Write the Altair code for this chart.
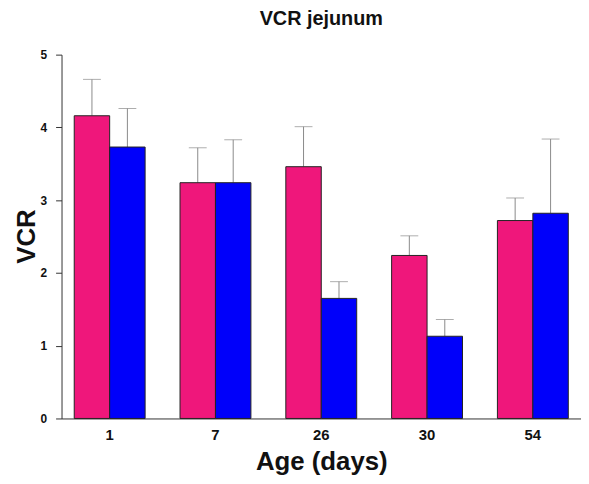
import altair as alt
import pandas as pd

ages = ["1", "7", "26", "30", "54"]
groups = ["A", "B"]
pink_vals = [4.16, 3.24, 3.46, 2.24, 2.72]
pink_err = [0.50, 0.48, 0.55, 0.27, 0.31]
blue_vals = [3.73, 3.24, 1.65, 1.13, 2.82]
blue_err = [0.53, 0.59, 0.23, 0.23, 1.02]
colors = ["#EF177B", "#0000FA"]

rows = []
for i, a in enumerate(ages):
    rows.append({"age": a, "group": "A", "value": pink_vals[i], "upper": pink_vals[i] + pink_err[i]})
    rows.append({"age": a, "group": "B", "value": blue_vals[i], "upper": blue_vals[i] + blue_err[i]})
df = pd.DataFrame(rows)

FONT = "Liberation Sans"

x_axis = alt.Axis(labelAngle=0, ticks=False, domain=True, domainColor="#333333", grid=False,
                  labelFont=FONT, labelFontSize=15, labelFontWeight="bold",
                  labelColor="#111111", labelPadding=9,
                  titleFont=FONT, titleFontSize=26, titleFontWeight="bold",
                  titleColor="#111111", titlePadding=6)
y_axis = alt.Axis(values=[0, 1, 2, 3, 4, 5], format="d", grid=False, tickSize=6, domain=True,
                  domainColor="#333333", tickColor="#333333",
                  labelFont=FONT, labelFontSize=12, labelFontWeight="bold",
                  labelColor="#111111", labelPadding=9,
                  titleFont=FONT, titleFontSize=26, titleFontWeight="bold",
                  titleColor="#111111", titleX=-27, titleY=183,
                  titleAngle=-90, titleBaseline="alphabetic")

x_scale = alt.Scale(paddingInner=0.33, paddingOuter=0.12)
y_scale = alt.Scale(domain=[0, 5], nice=False)
xo = alt.XOffset("group:N", sort=groups, scale=alt.Scale(paddingInner=0, paddingOuter=0))

bars = alt.Chart(df).mark_bar(stroke="#222222", strokeWidth=1).encode(
    x=alt.X("age:N", sort=ages, title="Age (days)", scale=x_scale, axis=x_axis),
    xOffset=xo,
    y=alt.Y("value:Q", scale=y_scale, title="VCR", axis=y_axis),
    color=alt.Color("group:N", sort=groups, scale=alt.Scale(domain=groups, range=colors), legend=None),
)

rules = alt.Chart(df).mark_rule(color="#8a8a8a", strokeWidth=1).encode(
    x=alt.X("age:N", sort=ages, title="Age (days)", scale=x_scale, axis=x_axis),
    xOffset=xo,
    y=alt.Y("value:Q", scale=y_scale, title="VCR", axis=y_axis),
    y2="upper:Q",
)

caps = alt.Chart(df).mark_tick(color="#8a8a8a", thickness=1, size=18, orient="horizontal").encode(
    x=alt.X("age:N", sort=ages, title="Age (days)", scale=x_scale, axis=x_axis),
    xOffset=xo,
    y=alt.Y("upper:Q", scale=y_scale, title="VCR", axis=y_axis),
)

chart = alt.layer(rules, caps, bars).properties(
    width=524, height=367,
    background="white",
    title=alt.TitleParams("VCR jejunum", font=FONT, fontSize=20, fontWeight="bold",
                          color="#111111", anchor="middle", offset=20),
    autosize=alt.AutoSizeParams(type="none"),
    padding={"left": 54, "top": 45, "right": 0, "bottom": 56},
).configure_view(stroke=None).configure_axis(grid=False)

chart.save("out.html", embed_options={"renderer": "svg", "actions": False})
